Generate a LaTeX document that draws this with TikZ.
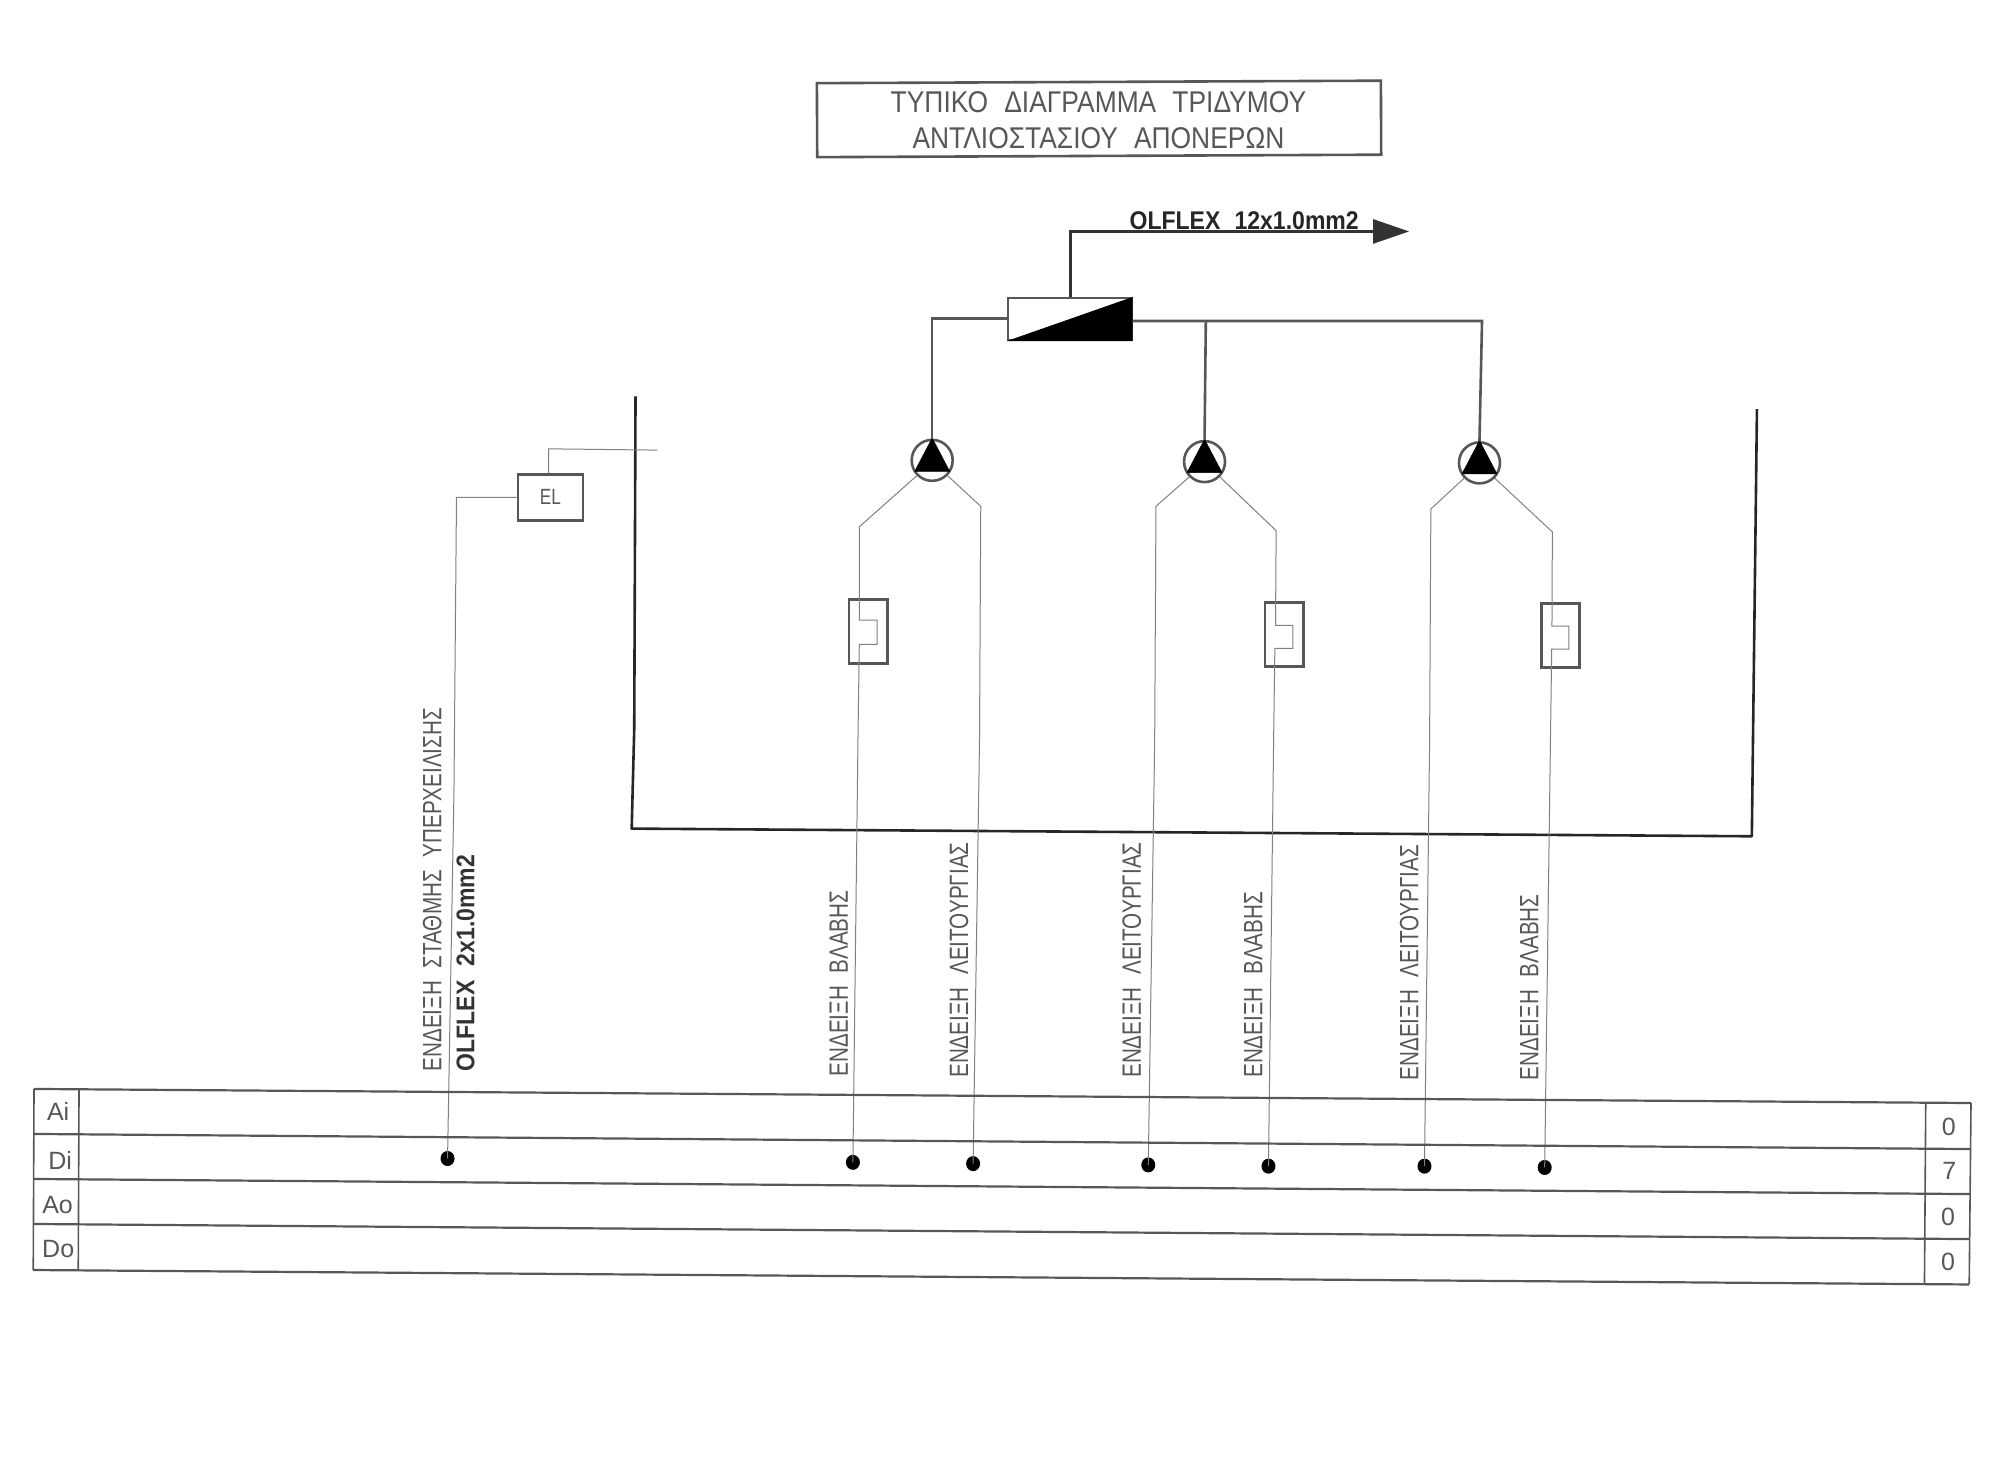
\documentclass[tikz,border=0pt]{standalone}
\usepackage{fontspec}
\setmainfont{Liberation Sans}
\newfontfamily\cad[FakeStretch=0.78,WordSpace=2.2]{Liberation Sans}
\newfontfamily\cadt[FakeStretch=0.88,WordSpace=2.2]{Liberation Sans}
\newfontfamily\cadb[FakeStretch=0.9,WordSpace=2.2]{Liberation Sans Bold}
\usetikzlibrary{arrows.meta}
\definecolor{ink}{gray}{0.34}
\definecolor{thinw}{gray}{0.5}
\tikzset{
  titlebox/.style={draw=ink,line width=2.6pt,minimum width=564pt,minimum height=74pt,inner sep=0pt,rotate=0.25},
  elbox/.style={draw=ink,line width=2.6pt,minimum width=65pt,minimum height=46pt,inner sep=0pt},
  thermal/.style={draw=ink,line width=2.6pt,minimum width=38.4pt,minimum height=64pt,inner sep=0pt},
  valve/.style={draw=ink,line width=2.2pt,minimum width=124pt,minimum height=42pt,inner sep=0pt},
  pump/.style={draw=ink,line width=2.6pt,circle,minimum size=41pt,inner sep=0pt},
  pumptri/.style={fill=black,draw=black,line width=0.5pt},
  wire/.style={draw=thinw,line width=1pt},
  pipe/.style={draw=ink,line width=2.6pt},
  tank/.style={draw=black!85,line width=2.6pt,line join=round},
  rowline/.style={draw=ink,line width=2.2pt},
  colline/.style={draw=ink,line width=1.6pt},
  dotmark/.style={ellipse,fill=black,minimum width=14pt,minimum height=15pt,inner sep=0pt},
  vlabel/.style={text=ink,font=\cad\fontsize{26.5}{26.5}\selectfont,rotate=90,anchor=west,inner sep=0pt},
  vbold/.style={text=black!80,font=\cadb\fontsize{25.6}{25.6}\selectfont,rotate=90,anchor=west,inner sep=0pt},
  cell/.style={text=ink,font=\fontsize{25}{25}\selectfont,inner sep=0pt},
}
\usetikzlibrary{shapes.geometric}
\begin{document}
\begin{tikzpicture}[x=1.2787pt,y=-1.2787pt]
\useasboundingbox (0,0) rectangle (1568,1156.7);
% title
\node[titlebox] (title) at (859.5,93) {};
\node[text=ink,font=\cadt\fontsize{30}{30}\selectfont,inner sep=0pt] (t1) at (859,80) {ΤΥΠΙΚΟ ΔΙΑΓΡΑΜΜΑ ΤΡΙΔΥΜΟΥ};
\node[text=ink,font=\cadt\fontsize{30}{30}\selectfont,inner sep=0pt] (t2) at (859,108) {ΑΝΤΛΙΟΣΤΑΣΙΟΥ ΑΠΟΝΕΡΩΝ};
% valve and delivery
\node[valve] (v) at (836.5,249.5) {};
\fill[black] (v.south west) -- (v.north east) -- (v.south east) -- cycle;
\coordinate (up) at (837,181);
\coordinate (out) at (1102,181);
\draw[pipe,-{Triangle[length=36pt,width=24pt]},black!80] (v.north -| up) -- (up) -- (out);
\node[text=black!85,font=\cadb\fontsize{25.6}{25.6}\selectfont,inner sep=0pt] (olf) at (973,172.5) {OLFLEX 12x1.0mm2};
% pumps
\node[pump] (p1) at (729,360) {};
\node[pump] (p2) at (942,361) {};
\node[pump] (p3) at (1157,362) {};
\foreach \p in {p1,p2,p3}{
  \fill[pumptri] ([yshift=0.5pt]\p.north) -- ([shift={(-17.5pt,-11pt)}]\p.center) -- ([shift={(17.5pt,-11pt)}]\p.center) -- cycle;
}
\coordinate (h1) at (729,249);
\coordinate (h2) at (943,251);
\coordinate (h3) at (1159,251);
\draw[pipe] (v.west |- h1) -- (h1) -- (p1.north);
\draw[pipe] (v.east |- h3) -- (h3) -- (p3.north);
\draw[pipe] (h2) -- (p2.north);
% tank
\coordinate (ta) at (497,310);
\coordinate (tb) at (496,570);
\coordinate (tc) at (494,648);
\coordinate (td) at (1370,654);
\coordinate (te) at (1374,320);
\draw[tank] (ta) -- (tb) -- (tc) -- (td) -- (te);
% thermal boxes
\node[thermal] (k1) at (679,494) {};
\node[thermal] (k2) at (1004.3,496.2) {};
\node[thermal] (k3) at (1220.3,497) {};
% dots
\node[dotmark] (d0) at (350,906) {};
\node[dotmark] (d1) at (667,909) {};
\node[dotmark] (d2) at (761,910) {};
\node[dotmark] (d3) at (898,911) {};
\node[dotmark] (d4) at (992,912) {};
\node[dotmark] (d5) at (1114,912) {};
\node[dotmark] (d6) at (1208,913) {};
% leads
\draw[wire] (p1.-135) -- (672,412) -- (672,485) -- (686,485) -- (686,504) -- (672,504) -- (671,575) -- (d1.center);
\draw[wire] (p1.-45) -- (767,396) -- (766,580) -- (d2.center);
\draw[wire] (p2.-135) -- (904,396) -- (903,580) -- (d3.center);
\draw[wire] (p2.-45) -- (998,415) -- (997.5,489) -- (1011,489) -- (1011,507) -- (997,507) -- (996,580) -- (d4.center);
\draw[wire] (p3.-135) -- (1119,398) -- (1118,580) -- (d5.center);
\draw[wire] (p3.-45) -- (1214,416) -- (1213.7,489.7) -- (1227,489.7) -- (1227,507.6) -- (1213.5,507.6) -- (1212.5,580) -- (d6.center);
% EL
\node[elbox,text=ink,font=\cad\fontsize{22}{22}\selectfont] (el) at (430.5,389) {EL};
\coordinate (s1) at (514,352);
\coordinate (s2) at (429,351);
\coordinate (s3) at (357,389);
\draw[wire] (s1) -- (s2) -- (s2 |- el.north);
\draw[wire] (el.west) -- (s3) -- (355,620) -- (d0.center);
% vertical labels
\node[vlabel] (l0) at (338,838) {ΕΝΔΕΙΞΗ ΣΤΑΘΜΗΣ ΥΠΕΡΧΕΙΛΙΣΗΣ};
\node[vbold] (l0b) at (364,838) {OLFLEX 2x1.0mm2};
\node[vlabel] (l1) at (656,842) {ΕΝΔΕΙΞΗ ΒΛΑΒΗΣ};
\node[vlabel] (l2) at (750,843) {ΕΝΔΕΙΞΗ ΛΕΙΤΟΥΡΓΙΑΣ};
\node[vlabel] (l3) at (885,843) {ΕΝΔΕΙΞΗ ΛΕΙΤΟΥΡΓΙΑΣ};
\node[vlabel] (l4) at (980,843) {ΕΝΔΕΙΞΗ ΒΛΑΒΗΣ};
\node[vlabel] (l5) at (1102,845) {ΕΝΔΕΙΞΗ ΛΕΙΤΟΥΡΓΙΑΣ};
\node[vlabel] (l6) at (1196,845) {ΕΝΔΕΙΞΗ ΒΛΑΒΗΣ};
% table
\coordinate (a0) at (26.6,851.6);
\coordinate (a1) at (26.6,886.8);
\coordinate (a2) at (26.4,922);
\coordinate (a3) at (26.2,957.2);
\coordinate (a4) at (26,993.2);
\coordinate (b0) at (1541.4,862.6);
\coordinate (b1) at (1541,898.6);
\coordinate (b2) at (1540.6,933.8);
\coordinate (b3) at (1540.3,969);
\coordinate (b4) at (1540,1004.5);
\foreach \i in {0,...,4}{\draw[rowline] (a\i) -- (b\i);}
\draw[colline] (a0) -- (a4);
\draw[colline] (b0) -- (b4);
\draw[colline] (61.8,851.9) -- (61.2,993.5);
\draw[colline] (1506,862.4) -- (1505,1004.2);
\node[cell] (ai) at (45.5,869.5) {Ai};
\node[cell] (di) at (47,907.5) {Di};
\node[cell] (ao) at (45,942.5) {Ao};
\node[cell] (do) at (45.5,977) {Do};
\node[cell] (v0) at (1524,881) {0};
\node[cell] (v1) at (1524.5,916) {7};
\node[cell] (v2) at (1523.5,951.5) {0};
\node[cell] (v3) at (1523.5,987) {0};
\end{tikzpicture}
\end{document}
